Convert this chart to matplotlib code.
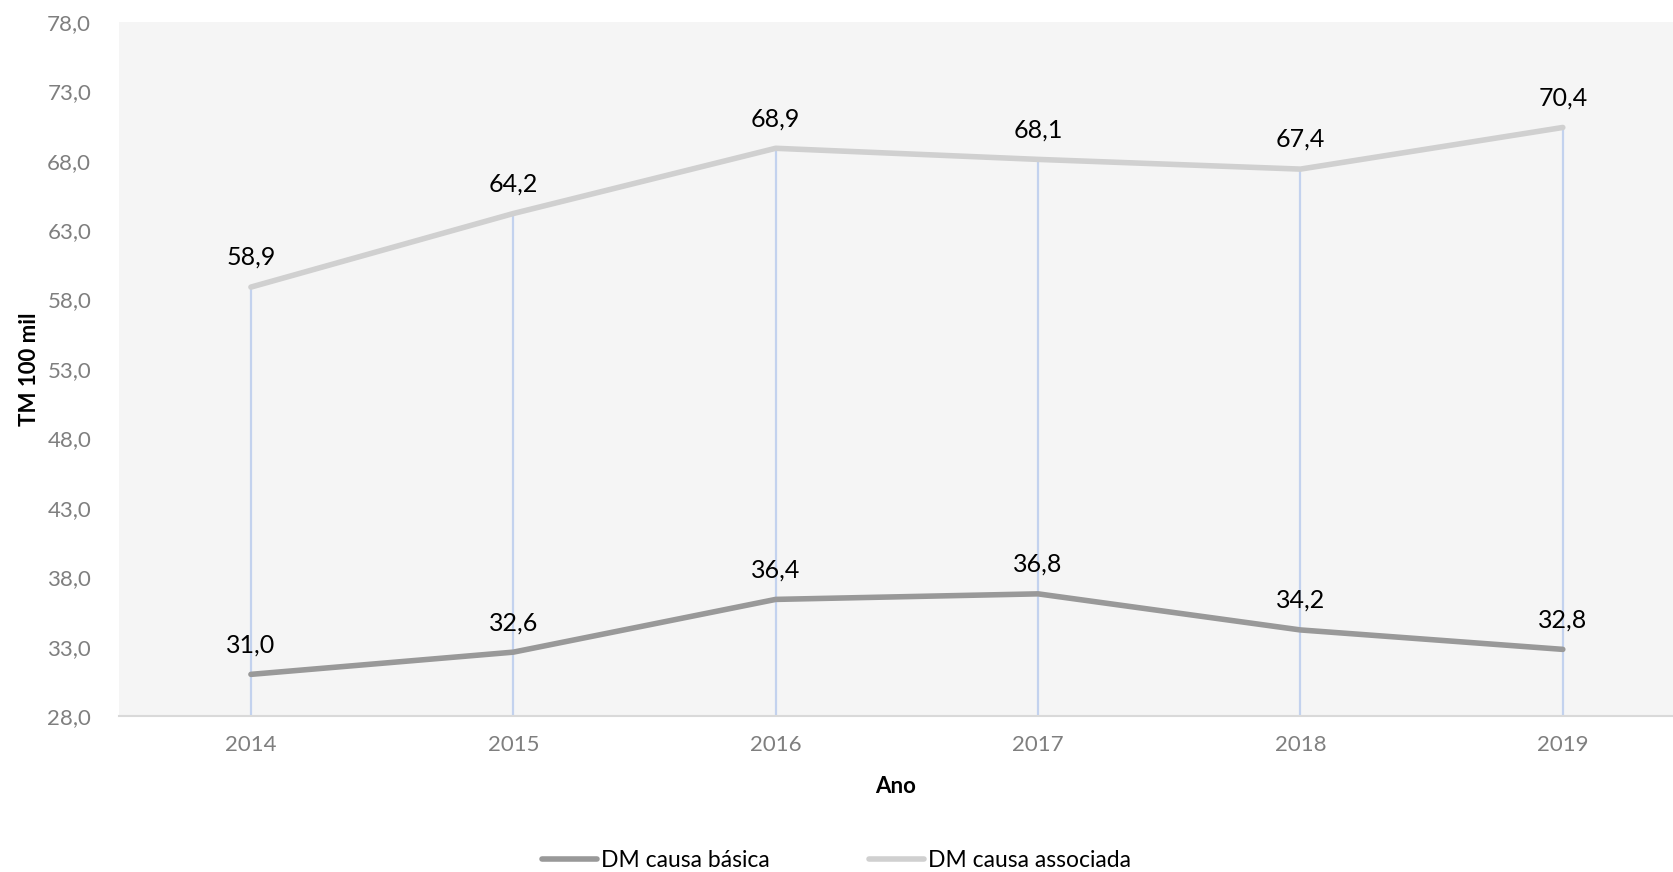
import numpy as np
import matplotlib
matplotlib.use("Agg")
import matplotlib.pyplot as plt

plt.rcParams['font.family'] = ['Lato', 'DejaVu Sans']

anos = ['2014', '2015', '2016', '2017', '2018', '2019']
dm_basica = [31.0, 32.6, 36.4, 36.8, 34.2, 32.8]
dm_associada = [58.9, 64.2, 68.9, 68.1, 67.4, 70.4]
y_ticks = [28.0, 33.0, 38.0, 43.0, 48.0, 53.0, 58.0, 63.0, 68.0, 73.0, 78.0]

fig = plt.figure(figsize=(16.73, 8.72), dpi=100)
ax = fig.add_axes([0.0711, 0.1789, 0.9289, 0.7959])
ax.set_facecolor('#f5f5f5')

x = np.arange(len(anos))

# drop lines from the top series down to the axis
ax.vlines(x, y_ticks[0], dm_associada, color='#c3d2ee', lw=1.6, zorder=1)

ax.plot(x, dm_basica, color='#999999', lw=4, solid_capstyle='round',
        label='DM causa básica', zorder=3)
ax.plot(x, dm_associada, color='#d0d0d0', lw=4, solid_capstyle='round',
        label='DM causa associada', zorder=3)

def fmt(v):
    return f'{v:.1f}'.replace('.', ',')

for xi, v in zip(x, dm_basica):
    ax.annotate(fmt(v), (xi, v), xytext=(0, 13), textcoords='offset points',
                ha='center', va='bottom', fontsize=18, color='black')
for xi, v in zip(x, dm_associada):
    ax.annotate(fmt(v), (xi, v), xytext=(0, 13), textcoords='offset points',
                ha='center', va='bottom', fontsize=18, color='black')

ax.set_xlim(-0.503, 5.42)
ax.set_ylim(y_ticks[0], y_ticks[-1])
ax.set_xticks(x)
ax.set_xticklabels(anos)
ax.set_yticks(y_ticks)
ax.set_yticklabels([fmt(t) for t in y_ticks])
ax.tick_params(axis='both', length=0, labelsize=16, labelcolor='#7f7f7f')
ax.tick_params(axis='x', pad=14)
ax.tick_params(axis='y', pad=20)

for s in ['top', 'right', 'left']:
    ax.spines[s].set_visible(False)
ax.spines['bottom'].set_color('#d9d9d9')
ax.spines['bottom'].set_linewidth(1.5)

ax.set_xlabel('Ano', fontsize=16, fontweight='bold', labelpad=15)
ax.set_ylabel('TM 100 mil', fontsize=16, fontweight='bold', labelpad=5)

fig.legend(loc='lower center', bbox_to_anchor=(0.5, -0.022), ncol=2, frameon=False,
           fontsize=16.5, handlelength=2.4, handletextpad=0.2, columnspacing=4.3)

fig.savefig('out.png', dpi=100, facecolor='white')
